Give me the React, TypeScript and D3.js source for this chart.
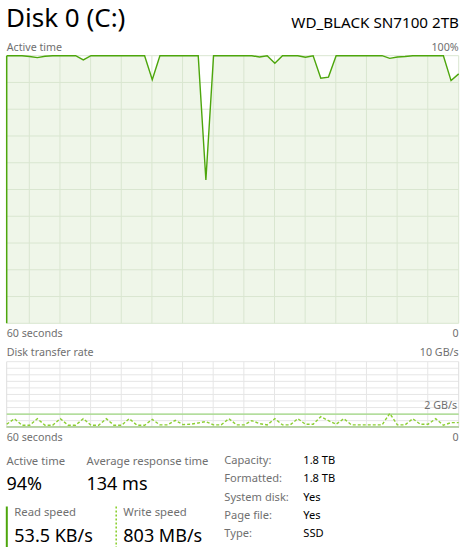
import React from "react";
import * as d3 from "d3";

// samples, oldest -> newest (60 samples across 60 seconds)
const activeTime = [
  100, 100, 100, 99.7, 99.3, 99.8, 100, 100, 100, 100,
  98.4, 100, 100, 100, 100, 100, 100, 100, 100, 91.0,
  100, 100, 100, 100, 100, 100, 53.6, 100, 100, 100,
  100, 100, 100, 99.5, 100, 97.2, 100, 100, 100, 99.4,
  100, 91.6, 92.0, 100, 100, 100, 100, 100, 100, 100,
  99.0, 99.5, 99.7, 100, 100, 100, 100, 100, 90.7, 93.2,
];

// GB/s
const writeSpeed = [
  0.45, 1.3, 0.3, 0.3, 1.3, 0.3, 0.3, 1.3, 0.3, 0.3,
  1.3, 0.3, 0.3, 1.3, 0.3, 0.3, 1.3, 0.3, 0.3, 1.2,
  0.35, 0.35, 1.05, 0.4, 0.45, 0.65, 0.85, 0.35, 0.35, 1.3,
  0.35, 0.35, 1.0, 0.55, 0.35, 1.3, 0.35, 0.35, 1.3, 0.45,
  0.45, 1.6, 1.0, 0.45, 1.3, 0.35, 0.35, 0.35, 0.35, 0.35,
  2.1, 0.35, 0.35, 1.3, 0.45, 0.45, 1.3, 0.3, 0.7, 0.7,
];
const readSpeed = writeSpeed.map(() => 0.00005);

const statLabels = ["Active time", "Average response time"];
const statValues = ["94%", "134 ms"];
const speedLabels = ["Read speed", "Write speed"];
const speedValues = ["53.5 KB/s", "803 MB/s"];
const propLabels = ["Capacity:", "Formatted:", "System disk:", "Page file:", "Type:"];
const propValues = ["1.8 TB", "1.8 TB", "Yes", "Yes", "SSD"];

const FONT = "'Segoe UI', 'Noto Sans', sans-serif";
const GREEN = "#4da60c";
const GRAY = "#707070";

export default function App() {
  const left = 6.7;
  const right = 458.7;
  const x = d3.scaleLinear().domain([0, activeTime.length - 1]).range([left, right]);

  // top chart
  const t = { top: 55.7, bottom: 323.3 };
  const y1 = d3.scaleLinear().domain([0, 100]).range([t.bottom, t.top]);
  const area = d3
    .area<number>()
    .x((d, i) => x(i))
    .y0(t.bottom)
    .y1((d) => y1(d));
  const line1 = d3
    .line<number>()
    .x((d, i) => x(i))
    .y((d) => y1(d));

  // bottom chart
  const b = { top: 361.7, bottom: 427.2 };
  const y2 = d3.scaleLinear().domain([0, 10]).range([b.bottom, b.top]);
  const line2 = d3
    .line<number>()
    .x((d, i) => x(i))
    .y((d) => y2(d));

  const vGrid = d3.range(29.3, right - 2, 30.65);
  const small = 10.7;

  return (
    <svg
      width={467}
      height={550}
      style={{ position: "absolute", left: 0, top: 0, background: "#fff" }}
      fontFamily={FONT}
    >
      <text x={6} y={27} fontSize={26} fill="#000">
        Disk 0 (C:)
      </text>
      <text x={459} y={27.5} fontSize={15.2} fill="#000" textAnchor="end">
        WD_BLACK SN7100 2TB
      </text>

      {/* active time chart */}
      <text x={left} y={50.5} fontSize={small} fill={GRAY}>
        Active time
      </text>
      <text x={right} y={50.5} fontSize={small} fill={GRAY} textAnchor="end">
        100%
      </text>
      <path d={area(activeTime) || ""} fill="#eff6e9" />
      {y1.ticks(10).map((v) => (
        <line key={"h" + v} x1={left} x2={right} y1={y1(v)} y2={y1(v)} stroke="#d9e6d0" strokeWidth={1} />
      ))}
      {vGrid.map((gx) => (
        <line key={"v" + gx} x1={gx} x2={gx} y1={t.top} y2={t.bottom} stroke="#d9e6d0" strokeWidth={1} />
      ))}
      <line x1={right} x2={right} y1={t.top} y2={t.bottom} stroke="#d9e6d0" />
      <path d={line1(activeTime) || ""} fill="none" stroke={GREEN} strokeWidth={1.4} />
      <line x1={left} x2={left} y1={y1(activeTime[0])} y2={t.bottom} stroke={GREEN} strokeWidth={1.5} />
      <text x={left} y={336.7} fontSize={small} fill={GRAY}>
        60 seconds
      </text>
      <text x={right} y={336.7} fontSize={small} fill={GRAY} textAnchor="end">
        0
      </text>

      {/* transfer rate chart */}
      <text x={left} y={356} fontSize={small} fill={GRAY}>
        Disk transfer rate
      </text>
      <text x={right} y={356} fontSize={small} fill={GRAY} textAnchor="end">
        10 GB/s
      </text>
      {y2.ticks(10).map((v) => (
        <line key={"h2" + v} x1={left} x2={right} y1={y2(v)} y2={y2(v)} stroke="#e6e6e6" strokeWidth={1} />
      ))}
      {vGrid.map((gx) => (
        <line key={"v2" + gx} x1={gx} x2={gx} y1={b.top} y2={b.bottom} stroke="#e6e6e6" strokeWidth={1} />
      ))}
      <line x1={left} x2={left} y1={b.top} y2={b.bottom} stroke="#dedede" />
      <line x1={right} x2={right} y1={b.top} y2={b.bottom} stroke="#dedede" />
      <path d={line2(readSpeed) || ""} fill="none" stroke={GREEN} strokeWidth={1.3} />
      <line x1={left} x2={right} y1={b.bottom} y2={b.bottom} stroke="#dedede" />
      <line x1={left} x2={right} y1={y2(2)} y2={y2(2)} stroke="#9fd882" strokeWidth={1.3} />
      <text x={457} y={408.5} fontSize={small} fill={GRAY} textAnchor="end">
        2 GB/s
      </text>
      <path
        d={line2(writeSpeed) || ""}
        fill="none"
        stroke="#8ccf32"
        strokeWidth={1.4}
        strokeDasharray="3,2"
      />
      <text x={left} y={441} fontSize={small} fill={GRAY}>
        60 seconds
      </text>
      <text x={right} y={441} fontSize={small} fill={GRAY} textAnchor="end">
        0
      </text>

      {/* stats */}
      {statLabels.map((s, i) => (
        <g key={s}>
          <text x={[6.5, 86.5][i]} y={465} fontSize={11.3} fill={GRAY}>
            {s}
          </text>
          <text x={[6.5, 86.5][i]} y={490} fontSize={18} fill="#000">
            {statValues[i]}
          </text>
        </g>
      ))}
      <line x1={6.8} x2={6.8} y1={506.5} y2={547} stroke={GREEN} strokeWidth={2} />
      <line x1={116.2} x2={116.2} y1={506.5} y2={547} stroke="#8ccf32" strokeWidth={1.6} strokeDasharray="2,2" />
      {speedLabels.map((s, i) => (
        <g key={s}>
          <text x={[14.3, 123.3][i]} y={516} fontSize={11.3} fill={GRAY}>
            {s}
          </text>
          <text x={[14.3, 123.3][i]} y={541.7} fontSize={18} fill="#000">
            {speedValues[i]}
          </text>
        </g>
      ))}
      {propLabels.map((s, i) => (
        <g key={s}>
          <text x={224.3} y={464.3 + i * 18.1} fontSize={11.1} fill={GRAY}>
            {s}
          </text>
          <text x={303.3} y={464.3 + i * 18.1} fontSize={11.1} fill="#000">
            {propValues[i]}
          </text>
        </g>
      ))}
    </svg>
  );
}
